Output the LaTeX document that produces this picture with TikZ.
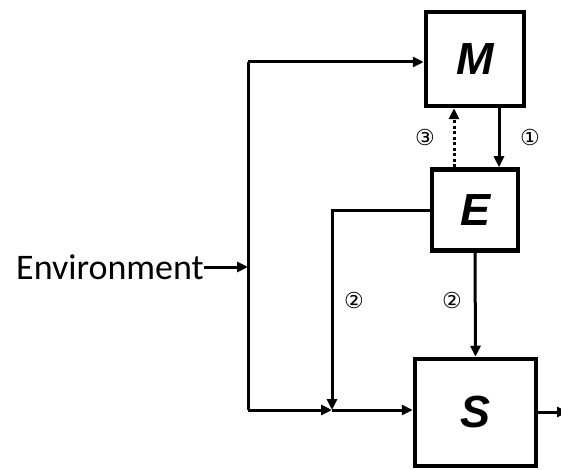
\documentclass[tikz,border=0pt]{standalone}
\usepackage{fontspec}
\setmainfont{Carlito}
\newfontfamily\lblfont{Liberation Sans}
\newfontfamily\symfont{DejaVu Sans}
\usetikzlibrary{arrows.meta}
\begin{document}
\begin{tikzpicture}[x=1pt,y=-1pt,
  blk/.style={draw,line width=4.5pt,inner sep=0pt,font=\lblfont\bfseries\itshape\fontsize{45}{45}\selectfont},
  conn/.style={line width=3pt,-{Triangle[length=11pt,width=10pt]}},
  plain/.style={line width=3pt},
  num/.style={font=\symfont\fontsize{22}{22}\selectfont}]
\useasboundingbox (0,0) rectangle (561,470);
\node[blk,minimum width=98pt,minimum height=94pt] (M) at (475,59) {M};
\node[blk,minimum width=86pt,minimum height=81pt] (E) at (475,210) {E};
\node[blk,minimum width=121pt,minimum height=107pt] (S) at (475.5,412.5) {S};
\node[anchor=east,font=\fontsize{36}{36}\selectfont,inner sep=0pt] (env) at (204,267) {Environment};
\coordinate (t) at (248,267);
\coordinate (tt) at (248,62);
\coordinate (tb) at (248,410);
\coordinate (j) at (332,410);
\coordinate (el) at (332,210);
\coordinate (out) at (568,412);
\draw[conn] (env.east) -- (t);
\draw[plain] (tt) -- (tb);
\draw[conn] (tt) -- (M.west |- tt);
\draw[conn] (tb) -- (j);
\draw[conn] (j) -- (S.west |- j);
\draw[conn] (E.west) -- (el) -- (j);
\draw[conn] (E.south) -- (S.north);
\draw[conn] ([xshift=24pt]M.south) -- ([xshift=24pt]E.north);
\draw[line width=3pt,dash pattern=on 3pt off 2.5pt,-{Triangle[length=11pt,width=10pt]}] ([xshift=-21pt]E.north) -- ([xshift=-21pt]M.south);
\draw[conn] (S.east |- out) -- (out);
\node[num] (n3) at (425,137) {③};
\node[num] (n1) at (530,137) {①};
\node[num] (n2a) at (354,300) {②};
\node[num] (n2b) at (452,300) {②};
\end{tikzpicture}
\end{document}
